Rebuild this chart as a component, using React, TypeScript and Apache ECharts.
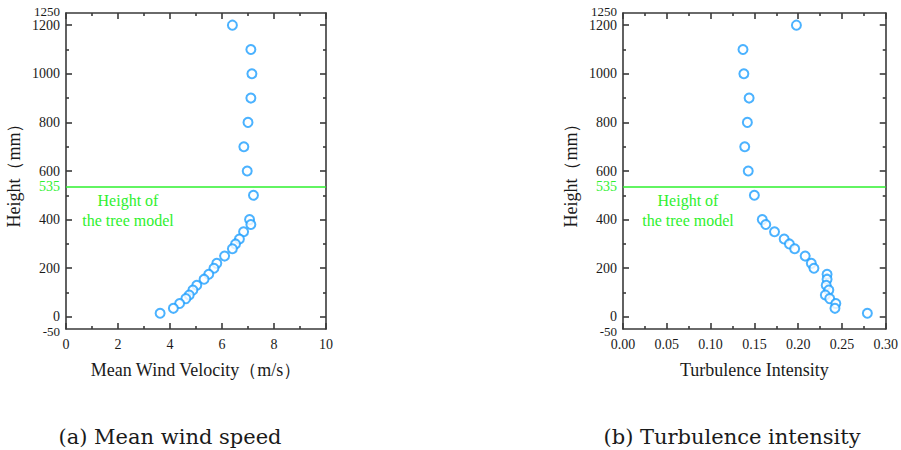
import React, { useEffect, useRef } from "react";
import * as echarts from "echarts";

const heights = [1200, 1100, 1000, 900, 800, 700, 600, 500, 400, 380, 350, 320, 300, 280, 250, 220, 200, 175, 155, 130, 110, 90, 75, 55, 35, 15];
const meanVelocity = [6.40, 7.11, 7.15, 7.11, 7.00, 6.84, 6.97, 7.21, 7.06, 7.11, 6.83, 6.67, 6.52, 6.40, 6.10, 5.80, 5.69, 5.49, 5.31, 5.03, 4.88, 4.74, 4.61, 4.37, 4.13, 3.62];
const turbulence = [0.198, 0.137, 0.138, 0.144, 0.142, 0.139, 0.143, 0.150, 0.159, 0.163, 0.173, 0.184, 0.190, 0.196, 0.208, 0.215, 0.218, 0.233, 0.233, 0.232, 0.235, 0.231, 0.236, 0.243, 0.242, 0.279];
const treeHeight = 535;
const yLabelValues = [0, 200, 400, 535, 600, 800, 1000, 1200];
const yEdgeLabels = [-50, 1250];
const yMajorTicks = [0, 200, 400, 600, 800, 1000, 1200];
const yMinorTicks = [100, 300, 500, 700, 900, 1100];
const captions = ["(a) Mean wind speed", "(b) Turbulence intensity"];
const xNames = ["Mean Wind Velocity（m/s）", "Turbulence Intensity"];
const yName = "Height（mm）";
const annotation = "Height of\nthe tree model";

const FONT = "Liberation Serif";
const AXIS = "#3a3a3a";
const TXT = "#1a1a1a";
const GREEN = "#2ef02e";
const BLUE = "#1e9fff";

export default function App() {
  const ref = useRef<HTMLDivElement>(null);
  useEffect(() => {
    document.body.style.margin = "0";
    const chart = echarts.init(ref.current!, null, { renderer: "svg" });
    const grids = [
      { left: 66, width: 260, top: 13, height: 316 },
      { left: 623, width: 263, top: 13, height: 316 },
    ];
    const xCfg = [
      { min: 0, max: 10, interval: 2, fmt: (v: number) => String(v) },
      { min: 0, max: 0.3, interval: 0.05, fmt: (v: number) => v.toFixed(2) },
    ];
    const xAxes: any[] = [];
    const yAxes: any[] = [];
    const line = { color: AXIS, width: 1.6 };
    [0, 1].forEach((g) => {
      const c = xCfg[g];
      const base = () => ({
        type: "value",
        gridIndex: g,
        min: c.min,
        max: c.max,
        interval: c.interval,
        splitLine: { show: false },
        axisLine: { show: true, onZero: false, lineStyle: { ...line } },
        axisTick: { show: true, inside: true, length: 6, lineStyle: { ...line } },
        minorTick: { show: true, splitNumber: 2, length: 3, lineStyle: { ...line } },
      });
      xAxes.push({
        ...base(),
        position: "bottom",
        name: xNames[g],
        nameLocation: "middle",
        nameGap: 32,
        nameTextStyle: { fontFamily: FONT, fontSize: 18, color: TXT },
        axisLabel: { show: true, fontFamily: FONT, fontSize: 14, color: TXT, margin: 8, formatter: c.fmt },
      });
      xAxes.push({ ...base(), position: "top", axisLabel: { show: false } });
      const yb = (pos: string, ticks: number[], len: number, showLine: boolean) => ({
        type: "value",
        gridIndex: g,
        min: -50,
        max: 1250,
        interval: 50,
        position: pos,
        splitLine: { show: false },
        axisLine: { show: showLine, onZero: false, lineStyle: { ...line } },
        axisTick: { show: true, inside: true, length: len, customValues: ticks, lineStyle: { ...line } },
        axisLabel: { show: false },
      });
      yAxes.push({
        ...yb("left", yMajorTicks, 6, true),
        name: yName,
        nameLocation: "middle",
        nameGap: 43,
        nameTextStyle: { fontFamily: FONT, fontSize: 18, color: TXT },
        axisLabel: {
          show: true,
          customValues: yLabelValues,
          fontFamily: FONT,
          fontSize: 14,
          margin: 6,
          formatter: (v: number) => String(v),
          color: (v: any) => (Number(v) === treeHeight ? GREEN : TXT),
        },
      });
      yAxes.push(yb("right", yMajorTicks, 6, true));
      yAxes.push(yb("left", yMinorTicks, 3, false));
      yAxes.push(yb("right", yMinorTicks, 3, false));
      yAxes.push({
        type: "value",
        gridIndex: g,
        min: -50,
        max: 1250,
        interval: 50,
        position: "left",
        splitLine: { show: false },
        axisLine: { show: false },
        axisTick: { show: false },
        axisLabel: {
          show: true,
          customValues: yEdgeLabels,
          showMinLabel: true,
          showMaxLabel: true,
          fontFamily: FONT,
          fontSize: 13,
          margin: 6,
          color: TXT,
          formatter: (v: number) => (v < 0 ? `{lo|${v}}` : `{hi|${v}}`),
          rich: {
            lo: { fontFamily: FONT, fontSize: 13, color: TXT, padding: [4, 0, 0, 0] },
            hi: { fontFamily: FONT, fontSize: 13, color: TXT, padding: [0, 0, 4, 0] },
          },
        },
      });
    });
    const mk = (xs: number[], g: number) => ({
      type: "scatter",
      xAxisIndex: g * 2,
      yAxisIndex: g * 5,
      data: xs.map((x, i) => [x, heights[i]]),
      symbol: "emptyCircle",
      symbolSize: 9,
      itemStyle: { color: BLUE, borderColor: BLUE, borderWidth: 1.5 },
      markLine: {
        silent: true,
        symbol: "none",
        label: { show: false },
        lineStyle: { color: GREEN, width: 1.5, type: "solid" },
        data: [{ yAxis: treeHeight }],
      },
    });
    chart.setOption({
      animation: false,
      backgroundColor: "#fff",
      grid: grids,
      xAxis: xAxes,
      yAxis: yAxes,
      series: [mk(meanVelocity, 0), mk(turbulence, 1)],
      graphic: [
        { type: "text", x: 128, y: 210, style: { text: annotation, fill: GREEN, font: `16px "${FONT}"`, align: "center", verticalAlign: "middle", lineHeight: 20 } },
        { type: "text", x: 688, y: 210, style: { text: annotation, fill: GREEN, font: `16px "${FONT}"`, align: "center", verticalAlign: "middle", lineHeight: 20 } },
        { type: "text", x: 170, y: 437, style: { text: captions[0], fill: TXT, font: `21px "DejaVu Serif"`, align: "center", verticalAlign: "middle" } },
        { type: "text", x: 732, y: 437, style: { text: captions[1], fill: TXT, font: `21px "DejaVu Serif"`, align: "center", verticalAlign: "middle" } },
      ],
    });
    return () => chart.dispose();
  }, []);
  return <div ref={ref} style={{ width: 901, height: 450 }} />;
}
